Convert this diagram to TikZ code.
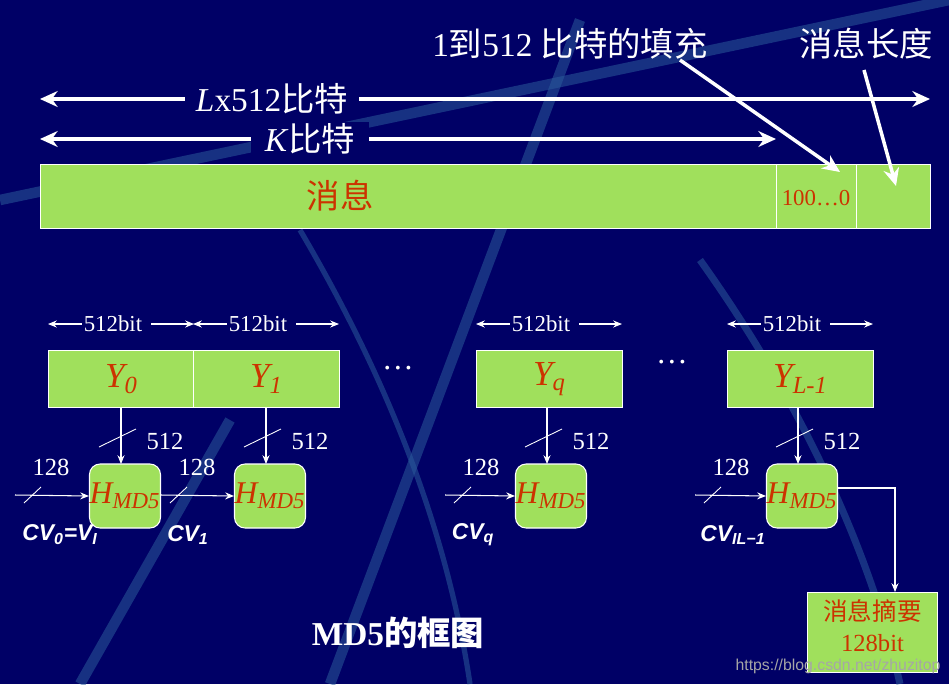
\documentclass[tikz,border=0pt]{standalone}
\usepackage{fontspec}
\setmainfont{Liberation Serif}
\setsansfont{Liberation Sans}
\newfontfamily\cjk{Noto Sans CJK SC}
\usetikzlibrary{arrows.meta}
\definecolor{bg}{HTML}{000066}
\definecolor{gr}{HTML}{A0E05C}
\definecolor{rd}{HTML}{CC3300}
\definecolor{streak}{HTML}{2A5A9A}
\begin{document}
\begin{tikzpicture}[x=0.02cm,y=-0.02cm,
  box/.style={draw=white,fill=gr,line width=0.6pt,inner sep=0,anchor=north west},
  hbox/.style={draw=white,fill=gr,rounded corners=6pt,minimum width=1.42cm,minimum height=1.28cm,inner sep=0,line width=0.6pt},
  thin/.style={white,line width=0.6pt,-{Stealth[length=5pt,width=4pt]}},
  thick/.style={white,line width=2.4pt,-{Stealth[length=10pt,width=9pt]}},
  both/.style={white,line width=2.4pt,{Stealth[length=10pt,width=9pt]}-{Stealth[length=10pt,width=9pt]}},
  lbl/.style={text=white,font=\fontsize{14}{16}\selectfont,inner sep=1pt},
  cv/.style={text=white,font=\sffamily\bfseries\itshape\fontsize{13}{15}\selectfont},
  hy/.style={text=rd,font=\itshape\fontsize{20}{24}\selectfont}]
\fill[bg] (0,0) rectangle (949,684);
\useasboundingbox (0,0) rectangle (949,684);
% streaks
\begin{scope}[streak,opacity=0.55,line width=6pt]
\draw (230,420) -- (80,684);
\draw (580,20) -- (330,684);
\draw (0,200) -- (949,0);
\draw[line width=3pt] (300,230) .. controls (400,400) and (450,550) .. (470,684);
\draw[line width=4pt] (700,260) .. controls (800,400) and (870,550) .. (900,684);
\end{scope}
% message bar
\node[box,minimum width=17.8cm,minimum height=1.28cm] (msg) at (40,164) {};
\node[box,minimum width=1.6cm,minimum height=1.28cm] (pad) at (776,164) {};
\node[box,minimum width=1.48cm,minimum height=1.28cm] (len) at (856,164) {};
\node[text=rd,font=\cjk\fontsize{19}{22}\selectfont] (msgt) at (340,196) {消息};
\node[text=rd,font=\fontsize{13}{15}\selectfont] (padt) at (816,198) {100…0};
% top arrows
\coordinate (l1) at (40,99); \coordinate (l2) at (930,99);
\draw[both] (l1) -- (l2);
\node[fill=bg,lbl,inner xsep=6pt,font=\fontsize{19}{22}\selectfont] (lt) at (272,99) {\textit{L}x512\cjk 比特};
\coordinate (k1) at (40,139); \coordinate (k2) at (776,139);
\draw[both] (k1) -- (k2);
\node[fill=bg,lbl,inner xsep=8pt,font=\fontsize{19}{22}\selectfont] (kt) at (310,139) {\textit{K}\cjk 比特};
\node[lbl,font=\fontsize{19}{22}\selectfont] (fill) at (570,44) {1\cjk 到\rmfamily 512 \cjk 比特的填充};
\node[lbl,font=\cjk\fontsize{19}{22}\selectfont] (lenl) at (866,44) {消息长度};
\coordinate (fa) at (680,60); \coordinate (fb) at (840,172);
\draw[thick,line width=2pt] (fa) -- (fb);
\coordinate (la) at (864,70); \coordinate (lb) at (896,186);
\draw[thick,line width=2pt] (la) -- (lb);
% Y blocks
\foreach \n/\x/\t in {y0/48/{Y\textsubscript{0}}, y1/193/{Y\textsubscript{1}}, yq/476/{Y\textsubscript{q}}, yl/727/{Y\textsubscript{L-1}}}{
  \node[box,minimum width=2.92cm,minimum height=1.14cm] (\n) at (\x,350) {};
  \node[hy] at ([xshift=0pt]\n.center) {\t};
  \coordinate (\n a) at (\x,324);
  \coordinate (\n b) at ([xshift=2.92cm]\n a);
  \node[lbl,font=\fontsize{13}{15}\selectfont] (\n w) at ([xshift=1.3cm]\n a) {512bit};
  \draw[thin] (\n w.west) -- (\n a);
  \draw[thin] ([xshift=4pt]\n w.east) -- (\n b);
}
\node[lbl,font=\fontsize{18}{20}\selectfont] (d1) at (398,368) {…};
\node[lbl,font=\fontsize{18}{20}\selectfont] (d2) at (672,362) {…};
% H boxes
\foreach \n/\x/\y/\i/\cvx/\cvl in {h0/125/y0/15/60/{CV\textsubscript{0}=V\textsubscript{I}}, h1/270/y1/161/188/{CV\textsubscript{1}}, hq/551/yq/445/473/{CV\textsubscript{q}}, hl/802/yl/695/733/{CV\textsubscript{IL−1}}}{
  \node[hbox] (\n) at (\x,496) {};
  \node[text=rd,inner sep=0] at (\n.center) {\itshape\fontsize{18}{22}\selectfont H\textsubscript{\fontsize{13}{15}\selectfont MD5}};
  \coordinate (\n t) at (\x-4,407);
  \draw[thin] (\n t) -- (\x-4,464);
  \draw[white,line width=0.5pt] (\x-26,447) -- (\x+11,429);
  \node[lbl] at (\x+40,441) {512};
  \coordinate (\n i) at (\i,495);
  \draw[thin] (\n i) -- (\n.west);
  \draw[white,line width=0.5pt] (\i+9,503) -- (\i+26,487);
  \node[lbl] at (\i+36,467) {128};
  \node[cv] at (\cvx,535) {\cvl};
}
% output
\node[box,minimum width=2.6cm,minimum height=1.6cm] (dig) at (807,592) {};
\node[text=rd,align=center,font=\fontsize{14}{18}\selectfont] at ([yshift=4pt]dig.center) {\cjk 消息摘要\\128bit};
\coordinate (c1) at (895,488);
\draw[thin] (hl.east |- c1) -- (c1) -- (c1 |- dig.north);
\node[text=white,font=\bfseries\fontsize{19}{22}\selectfont] (title) at (398,633) {MD5\cjk\bfseries 的框图};
\node[text=gray!70,font=\sffamily\fontsize{9}{11}\selectfont] (wm) at (838,666) {https://blog.csdn.net/zhuzitop};
\end{tikzpicture}
\end{document}
